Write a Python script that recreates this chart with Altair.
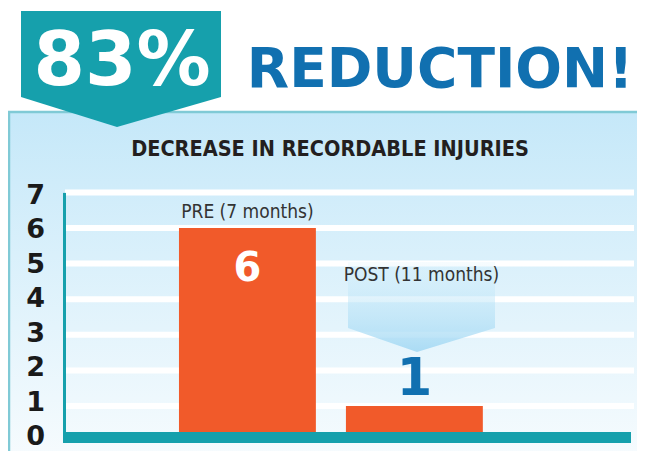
import altair as alt
import pandas as pd

# ---- data ----
categories = ["PRE", "POST"]
values = [6, 1]
bar_labels = ["PRE (7 months)", "POST (11 months)"]
y_ticks = [0, 1, 2, 3, 4, 5, 6, 7]
grid_values = [1, 2, 3, 4, 5, 6, 7]
headline_pct = "83%"
headline_word = "REDUCTION!"
chart_title = "DECREASE IN RECORDABLE INJURIES"

df = pd.DataFrame({"cat": categories, "value": values, "label": bar_labels})
grid_df = pd.DataFrame({"g": grid_values})
tick_df = pd.DataFrame({"t": y_ticks})

# ---- style ----
TEAL = "#16a0ac"
BLUE = "#1170b0"
ORANGE = "#f15a2a"
DARK = "#231f20"
NARROW = "'DejaVu Sans Condensed', 'Liberation Sans Narrow', 'Roboto Condensed', 'Noto Sans', sans-serif"

# plot-area origin in page pixels (page margin 8 included via padding)
OX, OY = 64.0, 192.4


def px(X):
    return X - OX


def py(Y):
    return Y - OY


one = alt.Data(values=[{}])

x_enc = alt.X("cat:N", sort=categories,
              scale=alt.Scale(type="band", domain=categories, paddingInner=0.18,
                              paddingOuter=0.797, align=0.432),
              axis=None)
y_scale = alt.Scale(domain=[0, 7], nice=False, zero=True)

panel = alt.Chart(one).mark_rect(
    fill=alt.LinearGradient(
        gradient="linear",
        stops=[alt.GradientStop(color="#c5e8f9", offset=0),
               alt.GradientStop(color="#f8fcfe", offset=1)],
        x1=0, x2=0, y1=0, y2=1)
).encode(x=alt.value(-70), x2=alt.value(600),
         y=alt.value(py(111)), y2=alt.value(py(470)))

border_top = alt.Chart(one).mark_rule(color="#80cad6", strokeWidth=2.5).encode(
    x=alt.value(-70), x2=alt.value(600), y=alt.value(py(112)))
border_left = alt.Chart(one).mark_rule(color="#80cad6", strokeWidth=2.5).encode(
    x=alt.value(-55), y=alt.value(py(111)), y2=alt.value(py(470)))

banner_df = pd.DataFrame({
    "bx": [px(21), px(117), px(221)],
    "by": [py(97), py(127), py(97)],
    "by2": [py(11), py(11), py(11)],
})
banner = alt.Chart(banner_df).mark_area(color=TEAL, opacity=1).encode(
    x=alt.X("bx:Q", scale=None, axis=None),
    y=alt.Y("by:Q", scale=None, axis=None),
    y2="by2:Q")

t83 = alt.Chart(one).mark_text(
    text=headline_pct, font="DejaVu Sans", fontWeight="bold", fontSize=74,
    color="white", align="center", baseline="alphabetic"
).encode(x=alt.value(px(122)), y=alt.value(py(85)))

tred = alt.Chart(one).mark_text(
    text=headline_word, font="DejaVu Sans", fontWeight="bold", fontSize=55,
    color=BLUE, align="center", baseline="alphabetic"
).encode(x=alt.value(px(440)), y=alt.value(py(87)))

ttitle = alt.Chart(one).mark_text(
    text=chart_title, font=NARROW, fontWeight="bold",
    fontSize=21.5, color=DARK, align="center", baseline="alphabetic"
).encode(x=alt.value(px(330)), y=alt.value(py(156)))

grid = alt.Chart(grid_df).mark_rule(color="white", strokeWidth=6).encode(
    y=alt.Y("g:Q", scale=y_scale, axis=None),
    x=alt.value(px(65)), x2=alt.value(px(634)))

chev_df = pd.DataFrame({
    "cx": [px(348), px(417), px(495)],
    "cy": [py(328), py(352), py(328)],
    "cy2": [py(262), py(262), py(262)],
})
chevron = alt.Chart(chev_df).mark_area(
    fill=alt.LinearGradient(
        gradient="linear",
        stops=[alt.GradientStop(color="rgba(200,235,250,0.15)", offset=0),
               alt.GradientStop(color="rgba(160,215,243,0.85)", offset=1)],
        x1=0, x2=0, y1=0, y2=1)
).encode(x=alt.X("cx:Q", scale=None, axis=None),
         y=alt.Y("cy:Q", scale=None, axis=None),
         y2="cy2:Q")

bars = alt.Chart(df).mark_bar(color=ORANGE).encode(
    x=x_enc,
    y=alt.Y("value:Q", scale=y_scale,
            axis=alt.Axis(values=y_ticks, title=None, grid=False, ticks=False,
                          tickSize=0, domain=True, domainColor=TEAL,
                          domainWidth=3, labels=False, zindex=1)))

# y tick labels, slightly tighter than the grid as in the reference
tick_labels = alt.Chart(tick_df).mark_text(
    font="DejaVu Sans", fontWeight="bold", fontSize=27, color="#1a1a1a",
    align="right", baseline="middle"
).encode(x=alt.value(px(45)),
         y=alt.Y("t:Q", scale=alt.Scale(domain=[-0.134, 7.104], nice=False, zero=False),
                 axis=None),
         text="t:Q")

base = alt.Chart(one).mark_rule(color=TEAL, strokeWidth=11).encode(
    x=alt.value(px(63)), x2=alt.value(px(631)), y=alt.value(py(437.5)))

pre_label = alt.Chart(df).transform_filter("datum.cat == 'PRE'").mark_text(
    font=NARROW, fontSize=19, color="#333333",
    baseline="alphabetic", align="center", dy=-10
).encode(x=x_enc, y=alt.Y("value:Q", scale=y_scale, axis=None), text="label:N")

post_label = alt.Chart(df).transform_filter("datum.cat == 'POST'").mark_text(
    font=NARROW, fontSize=19, color="#333333",
    baseline="alphabetic", align="center", dy=-125, dx=7
).encode(x=x_enc, y=alt.Y("value:Q", scale=y_scale, axis=None), text="label:N")

six = alt.Chart(df).transform_filter("datum.cat == 'PRE'").mark_text(
    font="DejaVu Sans", fontWeight="bold", fontSize=40, color="white",
    baseline="alphabetic", align="center", dy=53
).encode(x=x_enc, y=alt.Y("value:Q", scale=y_scale, axis=None), text="value:Q")

onev = alt.Chart(df).transform_filter("datum.cat == 'POST'").mark_text(
    font="DejaVu Sans", fontWeight="bold", fontSize=51, color=BLUE,
    baseline="alphabetic", align="center", dy=-11
).encode(x=x_enc, y=alt.Y("value:Q", scale=y_scale, axis=None), text="value:Q")

chart = alt.layer(
    panel, border_top, border_left, banner, t83, tred, ttitle,
    grid, chevron, bars, tick_labels, base, pre_label, post_label, six, onev
).resolve_scale(x="independent", y="independent").properties(
    width=570, height=249.2,
    padding={"left": 56, "top": 184.4, "right": 3, "bottom": 9.4},
    autosize=alt.AutoSizeParams(type="none"),
    background="white",
).configure_view(stroke=None)

chart.save("out.html", embed_options={"renderer": "svg", "actions": False})
